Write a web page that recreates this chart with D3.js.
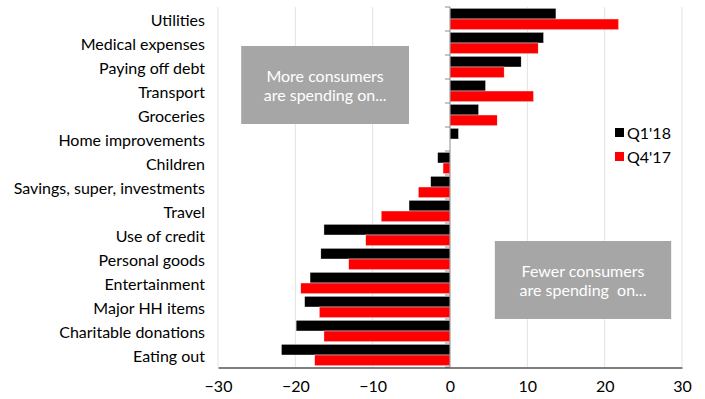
<!DOCTYPE html>
<html>
<head>
<meta charset="utf-8">
<script src="https://cdn.jsdelivr.net/npm/d3@7"></script>
<style>
  html, body { margin: 0; padding: 0; background: #fff; }
  svg { display: block; font-family: Lato, "Open Sans", sans-serif; }
</style>
</head>
<body>
<svg id="chart" width="705" height="399"></svg>
<script>
// Spending categories, top to bottom
const categories = [
  "Utilities", "Medical expenses", "Paying off debt", "Transport", "Groceries",
  "Home improvements", "Children", "Savings, super, investments", "Travel",
  "Use of credit", "Personal goods", "Entertainment", "Major HH items",
  "Charitable donations", "Eating out"
];
// Net balance of consumers spending more vs less
const q1_18 = [13.7, 12.1, 9.2, 4.6, 3.7, 1.1, -1.6, -2.5, -5.3, -16.3, -16.7, -18.1, -18.8, -19.9, -21.8];
const q4_17 = [21.8, 11.4, 7.0, 10.8, 6.1, 0.0, -0.9, -4.1, -8.9, -10.9, -13.1, -19.3, -16.9, -16.3, -17.5];
const seriesNames = ["Q1'18", "Q4'17"];
const seriesColors = ["#000000", "#ff0000"];
const xTicks = [-30, -20, -10, 0, 10, 20, 30];

const FONT = "16px";
const svg = d3.select("#chart");

const x = d3.scaleLinear().domain([-30, 30]).range([218, 682]);
const y = d3.scaleBand().domain(categories).range([7, 367]).paddingInner(0).paddingOuter(0);
const inner = d3.scaleBand().domain(seriesNames).range([0, y.bandwidth()]).paddingOuter(0.125).paddingInner(0);

// vertical gridlines
svg.append("g").selectAll("line")
  .data(xTicks.filter(d => d !== 0))
  .join("line")
  .attr("x1", d => x(d)).attr("x2", d => x(d))
  .attr("y1", 7).attr("y2", 367)
  .attr("stroke", "#e3e3e3").attr("stroke-width", 1);

// annotation boxes
const boxes = [
  { x0: -27.0, x1: -5.3, lines: ["More consumers", "are spending on..."], top: 46, bottom: 124 },
  { x0: 5.8, x1: 28.6, lines: ["Fewer consumers", "are spending  on..."], top: 241, bottom: 319 }
];
boxes.forEach(b => {
  svg.append("rect")
    .attr("x", x(b.x0)).attr("y", b.top)
    .attr("width", x(b.x1) - x(b.x0)).attr("height", b.bottom - b.top)
    .attr("fill", "#a6a6a6");
  const cx = (x(b.x0) + x(b.x1)) / 2;
  const cy = (b.top + b.bottom) / 2;
  b.lines.forEach((t, k) => {
    svg.append("text")
      .attr("x", cx).attr("y", cy + (k === 0 ? -9.5 : 9.5))
      .attr("text-anchor", "middle").attr("dominant-baseline", "central")
      .attr("fill", "#fff").style("font-size", FONT)
      .style("white-space", "pre")
      .text(t);
  });
});

// bars
const rows = categories.map((c, i) => ({ cat: c, vals: [q1_18[i], q4_17[i]] }));
const groups = svg.append("g").selectAll("g")
  .data(rows)
  .join("g")
  .attr("transform", d => `translate(0,${y(d.cat)})`);
groups.selectAll("rect")
  .data(d => d.vals.map((v, j) => ({ v, s: seriesNames[j], c: seriesColors[j] })))
  .join("rect")
  .attr("x", d => x(Math.min(0, d.v)))
  .attr("width", d => Math.abs(x(d.v) - x(0)))
  .attr("y", d => inner(d.s))
  .attr("height", inner.bandwidth())
  .attr("fill", d => d.c)
  .attr("stroke", "#ffffff").attr("stroke-width", 0.4);

// zero axis with category ticks on its left
svg.append("line")
  .attr("x1", x(0)).attr("x2", x(0))
  .attr("y1", 7).attr("y2", 367)
  .attr("stroke", "#8c8c8c").attr("stroke-width", 1);
svg.append("g").selectAll("line")
  .data(d3.range(categories.length + 1))
  .join("line")
  .attr("x1", x(0) - 5).attr("x2", x(0))
  .attr("y1", i => 7 + i * y.step()).attr("y2", i => 7 + i * y.step())
  .attr("stroke", "#8c8c8c").attr("stroke-width", 1);

// category labels
svg.append("g").selectAll("text")
  .data(categories)
  .join("text")
  .attr("x", 205)
  .attr("y", d => y(d) + y.bandwidth() / 2)
  .attr("text-anchor", "end").attr("dominant-baseline", "central")
  .attr("fill", "#000").style("font-size", FONT)
  .text(d => d);

// bottom value axis
const xAxis = d3.axisBottom(x).tickValues(xTicks).tickSize(0).tickPadding(13)
  .tickFormat(d3.format("d"));
const ax = svg.append("g").attr("transform", "translate(0,367.5)").call(xAxis);
ax.select(".domain").attr("stroke", "#000").attr("stroke-width", 1.2);
ax.selectAll("text").style("font-size", FONT).style("font-family", "Lato, 'Open Sans', sans-serif").attr("fill", "#000");

// legend
const legend = svg.append("g").selectAll("g")
  .data(seriesNames)
  .join("g")
  .attr("transform", (d, i) => `translate(615,${128 + i * 24})`);
legend.append("rect")
  .attr("width", 9).attr("height", 9)
  .attr("fill", (d, i) => seriesColors[i]);
legend.append("text")
  .attr("x", 12).attr("y", 4.5)
  .attr("dominant-baseline", "central")
  .style("font-size", FONT)
  .text(d => d);
</script>
</body>
</html>
